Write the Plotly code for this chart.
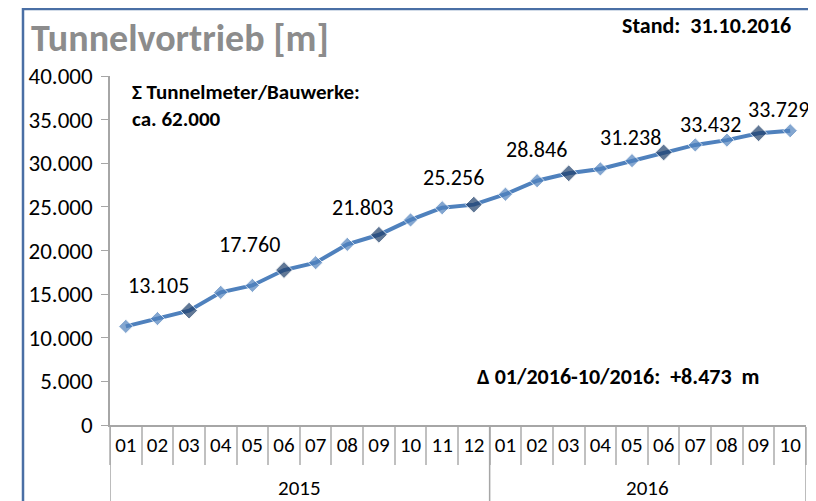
import plotly.graph_objects as go

years = ["2015"] * 12 + ["2016"] * 10
months = ["01", "02", "03", "04", "05", "06", "07", "08", "09", "10", "11", "12",
          "01", "02", "03", "04", "05", "06", "07", "08", "09", "10"]
values = [11300, 12200, 13105, 15200, 16000, 17760, 18600, 20700, 21803, 23500, 24900, 25256,
          26450, 28000, 28846, 29350, 30300, 31238, 32100, 32650, 33432, 33729]
highlight = [False, False, True, False, False, True, False, False, True, False, False, True,
             False, False, True, False, False, True, False, False, True, False]
labeled = [2, 5, 8, 11, 14, 17, 20, 21]
label_shift = {2: (-31, 25), 5: (-35, 26), 8: (-16, 27), 11: (-20, 27),
               14: (-32, 24), 17: (-33, 15), 20: (-48, 9), 21: (-12, 21)}

FONT = "Carlito, Lato, Open Sans, sans-serif"
LIGHT = "#4F81BD"
DARK = "#1F3F6B"

cats = [f"{y}-{m}" for y, m in zip(years, months)]

fig = go.Figure()
fig.add_trace(go.Scatter(
    x=cats, y=values, mode="lines+markers",
    line=dict(color=LIGHT, width=4),
    marker=dict(symbol="diamond",
                size=[13 if h else 11 for h in highlight],
                color=[DARK if h else LIGHT for h in highlight],
                line=dict(color="white", width=1)),
    hoverinfo="skip", showlegend=False))

def fmt(v):
    return f"{v:,}".replace(",", ".")

for i in labeled:
    dx, dy = label_shift[i]
    fig.add_annotation(x=i, y=values[i], xref="x", yref="y", text=fmt(values[i]),
                       showarrow=False, xshift=dx, yshift=dy,
                       font=dict(family=FONT, size=22, color="#000000"))

# year groups: labels and dividers derived from the category list
year_names = sorted(set(years))
bounds = []
for yname in year_names:
    idx = [i for i, y in enumerate(years) if y == yname]
    first, last = idx[0], idx[-1]
    bounds += [first - 0.5, last + 0.5]
    fig.add_annotation(x=(first + last) / 2, y=-0.1805, xref="x", yref="paper",
                       text=yname, showarrow=False, yanchor="middle",
                       font=dict(family=FONT, size=21, color="#000000"))
for b in sorted(set(bounds)):
    fig.add_shape(type="line", xref="x", yref="paper", x0=b, x1=b, y0=0, y1=-0.3,
                  line=dict(color="#A6A6A6", width=1.5))

fig.add_annotation(x=-0.116, y=1.038, xref="paper", yref="paper", xanchor="left", yanchor="bottom",
                   text="Tunnelvortrieb [m]", showarrow=False,
                   font=dict(family=FONT, size=38, color="#8C8C8C", weight="bold"))
fig.add_annotation(x=0.981, y=1.145, xref="paper", yref="paper", xanchor="right", yanchor="middle",
                   text="Stand:  31.10.2016", showarrow=False,
                   font=dict(family=FONT, size=22, color="#000000", weight="bold"))
fig.add_annotation(x=0.0287, y=0.915, xref="paper", yref="paper", xanchor="left", yanchor="middle",
                   text="Σ Tunnelmeter/Bauwerke:<br>ca. 62.000", showarrow=False, align="left",
                   font=dict(family=FONT, size=21, color="#000000", weight="bold"))
fig.add_annotation(x=0.936, y=0.14, xref="paper", yref="paper", xanchor="right", yanchor="middle",
                   text="Δ 01/2016-10/2016:  +8.473  m", showarrow=False,
                   font=dict(family=FONT, size=22, color="#000000", weight="bold"))

fig.add_shape(type="rect", xref="paper", yref="paper", x0=-0.125, x1=1.0101, y0=-0.35, y1=1.192,
              line=dict(color="#4A6FA5", width=2.5), fillcolor="rgba(0,0,0,0)", layer="below")

fig.update_layout(
    width=816, height=501,
    margin=dict(l=102, r=18, t=68, b=84, autoexpand=False),
    paper_bgcolor="white", plot_bgcolor="white",
    separators=",.",
    font=dict(family=FONT, size=21, color="#000000"),
    xaxis=dict(type="category", range=[-0.5, 21.5], automargin=False,
               tickmode="array", tickvals=cats, ticktext=months,
               showgrid=False, showline=True, linecolor="#A6A6A6", linewidth=1.5,
               ticks="outside", tickson="boundaries", ticklen=38, tickcolor="#C0C0C0", tickwidth=1.5,
               tickangle=0,
               tickfont=dict(family=FONT, size=21, color="#000000")),
    yaxis=dict(range=[0, 40000], dtick=5000, tickformat=",.0f", showgrid=False, zeroline=False,
               automargin=False, showline=True, linecolor="#A6A6A6", linewidth=1.5,
               ticks="outside", ticklen=7, ticklabelstandoff=4,
               tickcolor="#A6A6A6", tickfont=dict(family=FONT, size=23, color="#000000")),
)

fig.write_html("out.html")
